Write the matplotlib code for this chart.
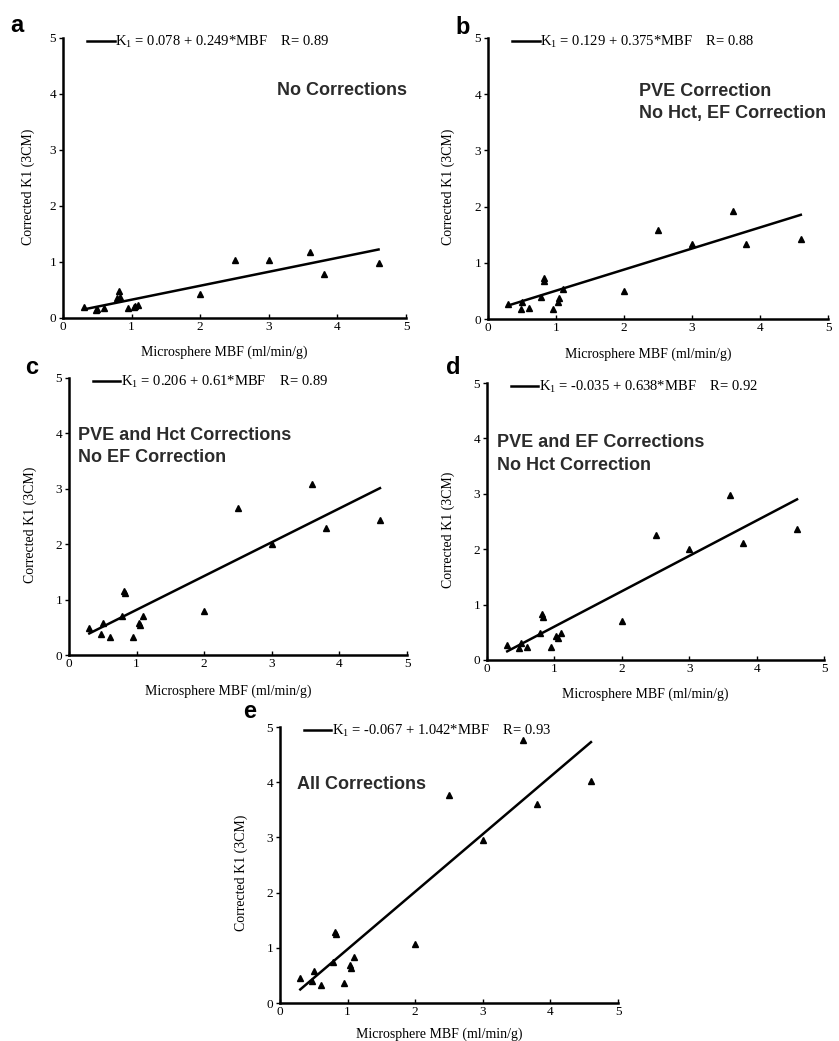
import numpy as np
import matplotlib
matplotlib.use("Agg")
import matplotlib.pyplot as plt

plt.rcParams['font.family'] = ['Liberation Serif', 'DejaVu Serif']
plt.rcParams['mathtext.default'] = 'regular'

# microsphere MBF (ml/min/g), same animals in every panel
mbf = [0.30, 0.48, 0.50, 0.60, 0.78, 0.82, 0.83, 0.95, 1.03, 1.05, 1.10,
       2.00, 2.50, 3.00, 3.60, 3.80, 4.60]

# corrected K1 (3CM) per panel
k1_a = [0.20, 0.14, 0.16, 0.17, 0.35, 0.48, 0.38, 0.17, 0.19, 0.21, 0.23,
        0.42, 1.04, 1.03, 1.17, 0.78, 0.98]
k1_b = [0.27, 0.18, 0.30, 0.19, 0.40, 0.73, 0.67, 0.17, 0.31, 0.37, 0.53,
        0.50, 1.58, 1.34, 1.93, 1.34, 1.42]
k1_c = [0.48, 0.38, 0.57, 0.32, 0.70, 1.15, 1.12, 0.32, 0.58, 0.54, 0.70,
        0.80, 2.66, 2.00, 3.08, 2.30, 2.43]
k1_d = [0.27, 0.21, 0.30, 0.23, 0.48, 0.83, 0.77, 0.23, 0.43, 0.40, 0.48,
        0.70, 2.25, 2.00, 2.98, 2.12, 2.36]
k1_e = [0.45, 0.40, 0.58, 0.33, 0.75, 1.28, 1.25, 0.36, 0.69, 0.63, 0.84,
        1.07, 3.76, 2.95, 4.76, 3.61, 4.02]

panel_letters = ['a', 'b', 'c', 'd', 'e']
intercepts = [0.078, 0.129, 0.206, -0.035, -0.067]
slopes = [0.249, 0.375, 0.61, 0.638, 1.042]
r_values = [0.89, 0.88, 0.89, 0.92, 0.93]
notes = ['No Corrections',
         'PVE Correction\nNo Hct, EF Correction',
         'PVE and Hct Corrections\nNo EF Correction',
         'PVE and EF Corrections\nNo Hct Correction',
         'All Corrections']
all_k1 = [k1_a, k1_b, k1_c, k1_d, k1_e]
ticks = [0, 1, 2, 3, 4, 5]

W, H = 839, 1041
# axes boxes in pixels: left, top, right, bottom
boxes = [(63, 38, 406, 318), (488, 38, 828, 319), (69, 378, 407, 655),
         (487, 383, 824, 660), (280, 727, 618, 1003)]
# note placement (data coords) and alignment
note_pos = [(5.02, 4.07, 'right'), (2.22, 3.85, 'left'), (0.13, 3.77, 'left'),
            (0.15, 3.72, 'left'), (0.25, 3.95, 'left')]
ylab_x = [-0.082, -0.097, -0.095, -0.095, -0.095]
xlab_y = [-0.10, -0.10, -0.108, -0.10, -0.088]
letter_px = [(17, 25), (463, 27), (32, 367), (453, 367), (250, 712)]

fig = plt.figure(figsize=(W / 100, H / 100), dpi=100)

for i in range(5):
    l, t, r, b = boxes[i]
    ax = fig.add_axes([l / W, 1 - b / H, (r - l) / W, (b - t) / H])
    x = np.array(mbf)
    y = np.array(all_k1[i])
    ax.plot(x, y, linestyle='none', marker='^', color='black', markersize=4.3)

    xf = np.array([min(mbf), max(mbf)])
    label = ('K$_1$ = %s + %s*MBF    R= %.2f'
             % (intercepts[i], slopes[i], r_values[i]))
    ax.plot(xf, intercepts[i] + slopes[i] * xf, color='black', lw=1.8,
            label=label)

    ax.legend(loc='center left', bbox_to_anchor=(0.07, 0.985),
              frameon=False, handlelength=1.9, handletextpad=0.05,
              borderpad=0, borderaxespad=0, fontsize=10.5)

    nx, ny, ha = note_pos[i]
    ax.text(nx, ny, notes[i], ha=ha, va='center', fontsize=13,
            fontweight='bold', color='#2b2b2b', linespacing=1.4,
            family=['Liberation Sans', 'DejaVu Sans'])

    ax.set_xlim(0, 5)
    ax.set_ylim(0, 5)
    ax.set_xticks(ticks)
    ax.set_yticks(ticks)
    ax.spines['top'].set_visible(False)
    ax.spines['right'].set_visible(False)
    ax.spines['left'].set_linewidth(1.8)
    ax.spines['bottom'].set_linewidth(1.8)
    ax.tick_params(axis='x', direction='in', length=3, width=1, labelsize=9.5, pad=2)
    ax.tick_params(axis='y', direction='out', length=3, width=1, labelsize=9.5, pad=2)

    ax.set_xlabel('Microsphere MBF (ml/min/g)', fontsize=10)
    ax.set_ylabel('Corrected K1 (3CM)', fontsize=10)
    ax.xaxis.set_label_coords(0.47, xlab_y[i])
    ax.yaxis.set_label_coords(ylab_x[i], 0.47)

    lx, ly = letter_px[i]
    fig.text(lx / W, 1 - ly / H, panel_letters[i], ha='center', va='center',
             fontsize=17, fontweight='bold',
             family=['Liberation Sans', 'DejaVu Sans'])

plt.savefig('out.png', dpi=100)
